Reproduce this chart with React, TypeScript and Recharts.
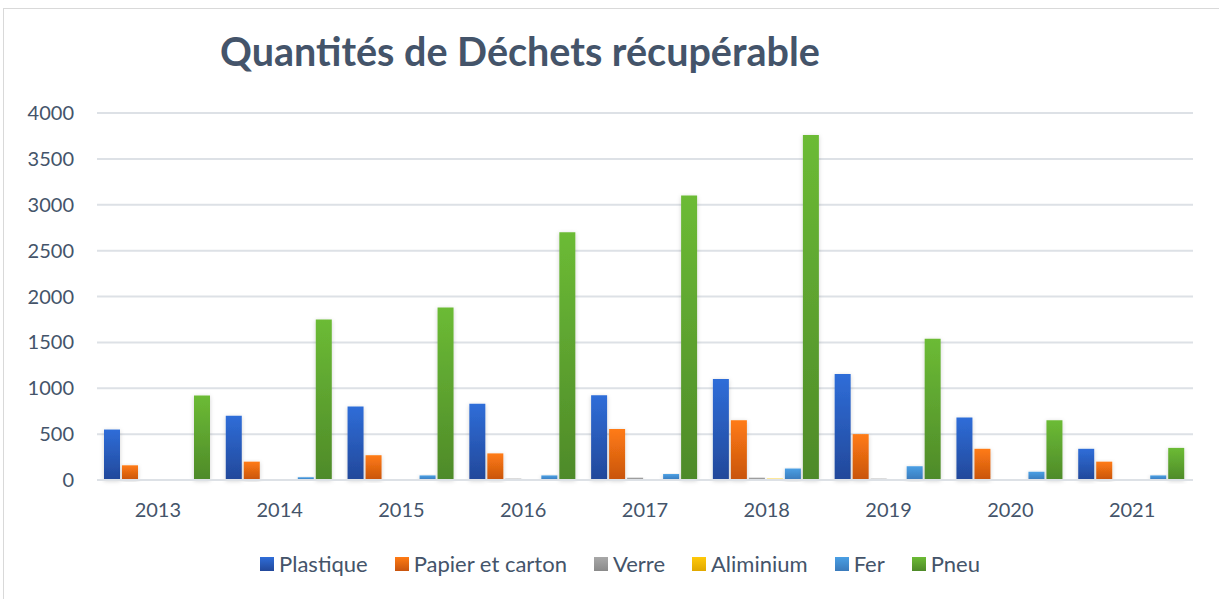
import { Bar, BarChart, CartesianGrid, XAxis, YAxis } from 'recharts'

const years = ['2013', '2014', '2015', '2016', '2017', '2018', '2019', '2020', '2021']
const plastique = [550, 700, 800, 830, 925, 1100, 1155, 680, 340]
const papier = [160, 200, 270, 290, 555, 650, 500, 340, 200]
const verre = [0, 0, 0, 15, 25, 25, 15, 0, 0]
const aluminium = [0, 0, 0, 0, 0, 15, 0, 0, 0]
const fer = [0, 30, 50, 50, 65, 125, 150, 90, 50]
const pneu = [920, 1750, 1880, 2700, 3100, 3760, 1540, 650, 350]
const yTicks = [0, 500, 1000, 1500, 2000, 2500, 3000, 3500, 4000]

const data = years.map((year, i) => ({
  year,
  plastique: plastique[i],
  papier: papier[i],
  verre: verre[i],
  aluminium: aluminium[i],
  fer: fer[i],
  pneu: pneu[i],
}))

const series = [
  { key: 'plastique', name: 'Plastique', top: '#2f6dd8', bottom: '#22489a' },
  { key: 'papier', name: 'Papier et carton', top: '#ff7b14', bottom: '#c8540e' },
  { key: 'verre', name: 'Verre', top: '#a8a8a8', bottom: '#8a8a8a' },
  { key: 'aluminium', name: 'Aliminium', top: '#ffc90a', bottom: '#e0a800' },
  { key: 'fer', name: 'Fer', top: '#4a9fe4', bottom: '#3a7abb' },
  { key: 'pneu', name: 'Pneu', top: '#6cbb35', bottom: '#4e8a29' },
]

const font = 'Lato, "Open Sans", sans-serif'
const textColor = '#44546a'

function LegendBox() {
  return (
    <div
      style={{
        position: 'absolute',
        left: 0,
        width: 1240,
        top: 549,
        display: 'flex',
        justifyContent: 'center',
        gap: 27,
        fontFamily: font,
        fontSize: 22,
        lineHeight: '30px',
        color: textColor,
      }}
    >
      {series.map((s) => (
        <div key={s.key} style={{ display: 'flex', alignItems: 'center' }}>
          <span
            style={{
              width: 14,
              height: 14,
              marginRight: 5,
              background: `linear-gradient(${s.top}, ${s.bottom})`,
              display: 'inline-block',
            }}
          />
          {s.name}
        </div>
      ))}
    </div>
  )
}

export default function App() {
  return (
    <div style={{ position: 'absolute', left: 0, top: 0, width: 1219, height: 599, background: '#fff', overflow: 'hidden' }}>
      <div
        style={{
          position: 'absolute',
          left: 3,
          top: 8,
          width: 1230,
          height: 600,
          border: '1px solid #d9d9d9',
          boxSizing: 'border-box',
        }}
      />
      <div
        style={{
          position: 'absolute',
          left: 220,
          top: 27,
          fontFamily: font,
          fontWeight: 700,
          fontSize: 39.5,
          color: textColor,
          whiteSpace: 'nowrap',
        }}
      >
        Quantités de Déchets récupérable
      </div>
      <div style={{ position: 'absolute', left: 0, top: 0 }}>
        <BarChart
          width={1219}
          height={599}
          data={data}
          margin={{ top: 113, right: 26, bottom: 89, left: 0 }}
          barCategoryGap={7}
          barGap={2}
        >
          <defs>
            {series.map((s) => (
              <linearGradient key={s.key} id={`grad-${s.key}`} x1="0" y1="0" x2="0" y2="1">
                <stop offset="0%" stopColor={s.top} />
                <stop offset="100%" stopColor={s.bottom} />
              </linearGradient>
            ))}
            <filter id="shadow" x="-30%" y="-10%" width="160%" height="120%">
              <feDropShadow dx="0" dy="1" stdDeviation="2" floodColor="#000" floodOpacity="0.18" />
            </filter>
          </defs>
          <CartesianGrid vertical={false} stroke="#dde1e6" strokeWidth={2} />
          <XAxis
            dataKey="year"
            axisLine={{ stroke: '#dde1e6', strokeWidth: 2 }}
            tickLine={false}
            tickMargin={17}
            tick={{ fill: textColor, fontSize: 20, fontFamily: font }}
          />
          <YAxis
            width={97}
            domain={[0, 4000]}
            ticks={yTicks}
            axisLine={false}
            tickLine={false}
            tickMargin={17}
            tick={{ fill: textColor, fontSize: 20, fontFamily: font }}
          />
          {series.map((s) => (
            <Bar
              key={s.key}
              dataKey={s.key}
              name={s.name}
              fill={`url(#grad-${s.key})`}
              filter="url(#shadow)"
              isAnimationActive={false}
            />
          ))}
        </BarChart>
      </div>
      <LegendBox />
    </div>
  )
}
